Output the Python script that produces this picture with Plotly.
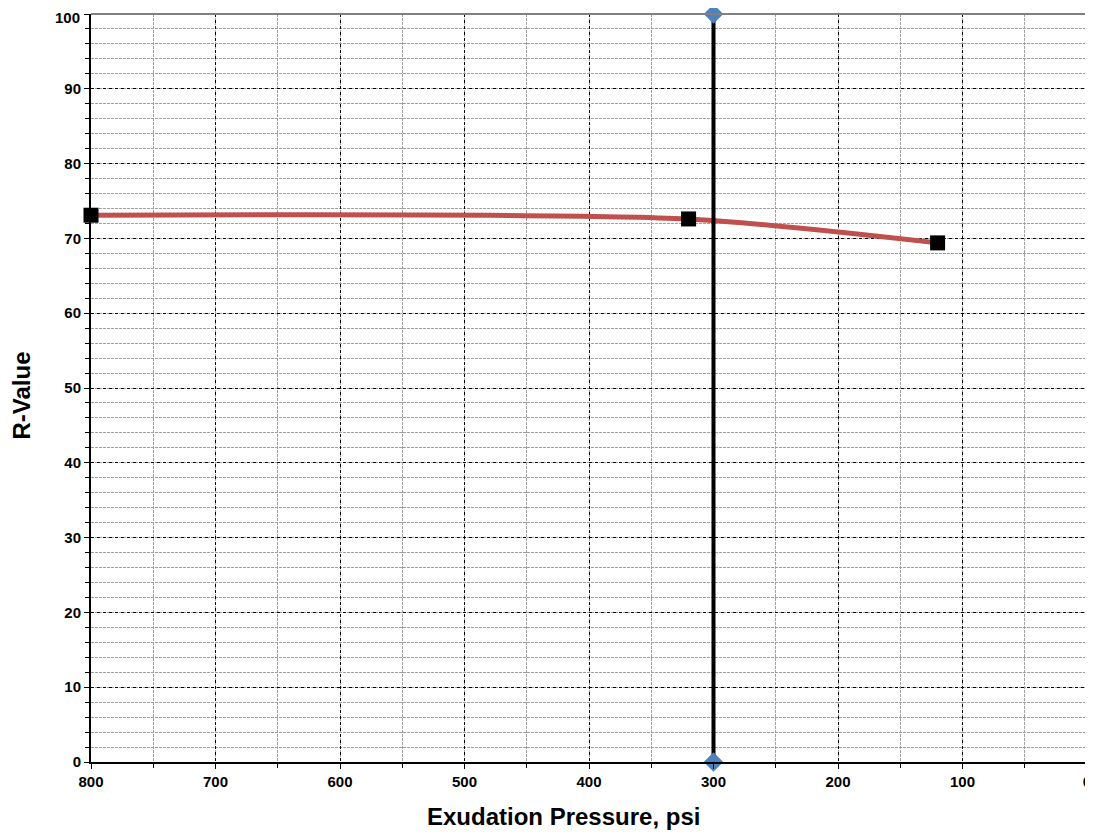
import plotly.graph_objects as go

# Data
pressure = [800, 320, 120]
r_value = [73.1, 72.6, 69.4]
limit_x = [300, 300]
limit_y = [0, 100]
x_ticks = [800, 700, 600, 500, 400, 300, 200, 100, 0]
y_ticks = [0, 10, 20, 30, 40, 50, 60, 70, 80, 90, 100]

fig = go.Figure()
fig.add_trace(go.Scatter(
    x=pressure, y=r_value, mode="lines+markers",
    line=dict(color="#C0504D", width=5, shape="spline", smoothing=0.7),
    marker=dict(symbol="square", size=15, color="black"),
    showlegend=False, cliponaxis=False, hoverinfo="skip"))
fig.add_trace(go.Scatter(
    x=limit_x, y=limit_y, mode="lines+markers",
    line=dict(color="black", width=4),
    marker=dict(symbol="diamond", size=15, color="#4F81BD"),
    showlegend=False, cliponaxis=False, hoverinfo="skip"))

font_b = dict(family="Liberation Sans, Arial, sans-serif", size=15, color="black")

top_tick = y_ticks[-1]
y_ticktext = [f"<b>{v}</b>" if v != top_tick else "" for v in y_ticks]

fig.update_layout(
    width=1085, height=823,
    margin=dict(l=83, r=6, t=6, b=69),
    paper_bgcolor="white", plot_bgcolor="white",
    font=font_b,
    xaxis=dict(
        range=[800, 0], tickvals=x_ticks, ticktext=[f"<b>{v}</b>" for v in x_ticks],
        ticklabeloverflow="allow", automargin=False,
        showgrid=True, gridcolor="black", griddash="dot", gridwidth=1,
        minor=dict(dtick=50, showgrid=True, gridcolor="#A0A0A0", griddash="3px,1px",
                   ticks="outside", ticklen=4, tickcolor="black"),
        ticks="outside", ticklen=5, tickcolor="black",
        showline=True, linecolor="black", linewidth=2, mirror=False,
        zeroline=False,
    ),
    yaxis=dict(
        range=[0, 100], tickvals=y_ticks, ticktext=y_ticktext,
        ticklabeloverflow="allow", automargin=False,
        showgrid=True, gridcolor="black", griddash="dot", gridwidth=1,
        minor=dict(dtick=2, showgrid=True, gridcolor="#A0A0A0", griddash="3px,1px",
                   ticks="outside", ticklen=4, tickcolor="black"),
        ticks="outside", ticklen=5, tickcolor="black",
        showline=True, linecolor="black", linewidth=2,
        zeroline=False,
    ),
    annotations=[
        dict(text=f"<b>{top_tick}</b>", xref="paper", yref="y",
             x=0, y=top_tick, xanchor="right", yanchor="middle",
             xshift=-9, yshift=-3, showarrow=False, font=dict(size=15)),
        dict(text="<b>Exudation Pressure, psi</b>", xref="paper", yref="paper",
             x=0.474, y=-0.0735, xanchor="center", yanchor="middle",
             showarrow=False, font=dict(size=24)),
        dict(text="<b>R-Value</b>", xref="paper", yref="paper",
             x=-0.0698, y=0.4906, xanchor="center", yanchor="middle",
             textangle=-90, showarrow=False, font=dict(size=24)),
    ],
    shapes=[
        dict(type="line", xref="paper", yref="paper", x0=0, x1=1, y0=1, y1=1,
             line=dict(color="#808080", width=2)),
        dict(type="line", xref="paper", yref="paper", x0=1, x1=1, y0=0, y1=1,
             line=dict(color="#808080", width=2)),
    ],
)

fig.write_html("out.html")
